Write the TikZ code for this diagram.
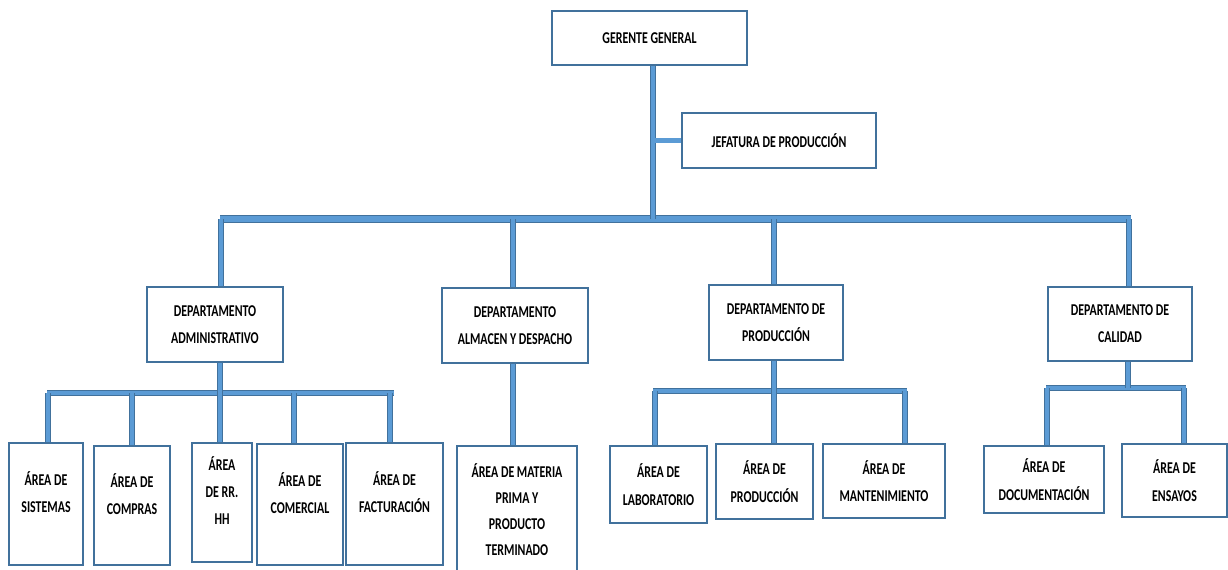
\documentclass[tikz,border=0pt]{standalone}
\usepackage{fontspec}
\setmainfont{Carlito}[FakeStretch=0.72]
\usepackage{tikz}
\definecolor{barfill}{HTML}{5B9BD5}
\definecolor{barline}{HTML}{41719C}
% texto levantado dentro de las cajas altas
\newcommand{\hitext}[2]{\raisebox{#1}[0pt][0pt]{\begin{tabular}{@{}c@{}}#2\end{tabular}}}

\begin{document}
\begin{tikzpicture}[x=0.02cm,y=-0.02cm,
    wh/.style 2 args={minimum width=#1*0.02cm,minimum height=#2*0.02cm},
    box/.style={draw=barline,line width=0.9pt,fill=white,align=center,inner sep=2pt,
      font=\fontsize{9.4}{15.5}\selectfont\bfseries},
    conn/.style={draw=barline,line width=0.45pt,double=barfill,double distance=2.3pt},
    bus/.style={conn,double distance=3.4pt}]
  \useasboundingbox (0,0) rectangle (1228,569);
  % gerencia
  \node[box,wh={195}{54}] (gg) at (649.5,38) {GERENTE GENERAL};
  \node[box,wh={194}{55}] (jef) at (779,140.5) {JEFATURA DE PRODUCCIÓN};
  % departamentos
  \node[box,wh={136}{75}] (dadm) at (215,324.5) {DEPARTAMENTO\\ADMINISTRATIVO};
  \node[box,wh={146}{75}] (dalm) at (515,325.5) {DEPARTAMENTO\\ALMACEN Y DESPACHO};
  \node[box,wh={134}{75}] (dprod) at (776,322.5) {DEPARTAMENTO DE\\PRODUCCIÓN};
  \node[box,wh={144}{74}] (dcal) at (1120,324) {DEPARTAMENTO DE\\CALIDAD};
  % areas
  \node[box,wh={74}{122}] (sis) at (46,504) {\hitext{3.6pt}{ÁREA DE\\SISTEMAS}};
  \node[box,wh={76}{119}] (com) at (132,505.5) {\hitext{3.6pt}{ÁREA DE\\COMPRAS}};
  \node[box,wh={60}{119}] (rrhh) at (222,502.5) {\hitext{3.6pt}{ÁREA\\DE RR.\\HH}};
  \node[box,wh={86}{121}] (comer) at (300,504.5) {\hitext{3.6pt}{ÁREA DE\\COMERCIAL}};
  \node[box,wh={97}{122}] (fact) at (394.5,504) {\hitext{3.6pt}{ÁREA DE\\FACTURACIÓN}};
  \node[box,wh={120}{128},font=\fontsize{9.4}{14.8}\selectfont\bfseries] (mat) at (517,510) {ÁREA DE MATERIA\\PRIMA Y\\PRODUCTO\\TERMINADO};
  \node[box,wh={97}{77}] (lab) at (658.5,484.5) {ÁREA DE\\LABORATORIO};
  \node[box,wh={97}{75}] (prod) at (764.5,481.5) {ÁREA DE\\PRODUCCIÓN};
  \node[box,wh={122}{74}] (mant) at (884,481) {ÁREA DE\\MANTENIMIENTO};
  \node[box,wh={120}{67}] (doc) at (1044,479.5) {ÁREA DE\\DOCUMENTACIÓN};
  \node[box,wh={105}{73}] (ens) at (1174.5,480.5) {ÁREA DE\\ENSAYOS};

  % lineas principales
  \coordinate (bus) at (653,219);
  \coordinate (busL) at (220,219);
  \coordinate (busR) at (1131,219);
  \draw[bus] (busL) -- (busR);
  \draw[conn] (gg.south -| bus) -- (bus)
    (jef.west) -- (jef.west -| bus);
  \foreach \x/\n in {221/dadm,513/dalm,774/dprod,1129/dcal}
    \draw[conn] (\x,219) -- (\x,219 |- \n.north);

  % administrativo
  \draw[conn,double distance=2.8pt] (47,393) -- (394,393);
  \draw[conn] (220,393 |- dadm.south) -- (220,393 |- rrhh.north);
  \foreach \x/\n in {48/sis,132/com,294/comer,390/fact}
    \draw[conn] (\x,393) -- (\x,393 |- \n.north);
  % almacen
  \draw[conn] (513,0 |- dalm.south) -- (513,0 |- mat.north);
  % produccion
  \draw[conn,double distance=2.8pt] (653,391) -- (907,391);
  \draw[conn] (774,0 |- dprod.south) -- (774,0 |- prod.north);
  \foreach \x/\n in {655/lab,905/mant}
    \draw[conn] (\x,391) -- (\x,391 |- \n.north);
  % calidad
  \draw[conn,double distance=2.8pt] (1046,388) -- (1186,388);
  \draw[conn] (1128,0 |- dcal.south) -- (1128,388);
  \foreach \x/\n in {1047/doc,1184/ens}
    \draw[conn] (\x,388) -- (\x,388 |- \n.north);
\end{tikzpicture}
\end{document}
